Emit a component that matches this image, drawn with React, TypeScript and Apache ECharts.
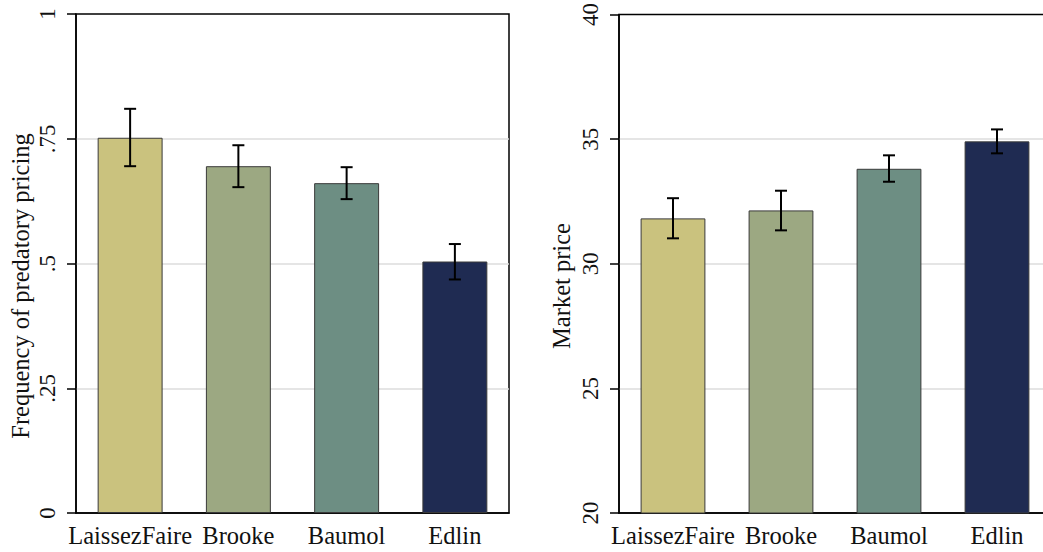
import React, { useEffect, useRef } from "react";
import * as echarts from "echarts";

const categories = ["LaissezFaire", "Brooke", "Baumol", "Edlin"];
const freqValues = [0.752, 0.695, 0.661, 0.504];
const freqLow = [0.695, 0.653, 0.629, 0.468];
const freqHigh = [0.81, 0.737, 0.693, 0.539];
const priceValues = [31.82, 32.14, 33.81, 34.91];
const priceLow = [31.02, 31.34, 33.29, 34.43];
const priceHigh = [32.63, 32.93, 34.35, 35.39];
const freqTicks = [0, 0.25, 0.5, 0.75, 1];
const priceTicks = [20, 25, 30, 35, 40];
const barColors = ["#CAC27E", "#9CA882", "#6D8E83", "#1F2B52"];

const FONT = "'Liberation Serif', 'Times New Roman', serif";
const TEXT = "#111111";

export default function App() {
  const ref = useRef<HTMLDivElement>(null);
  useEffect(() => {
    const chart = echarts.init(ref.current!, null, { renderer: "svg" });
    const fmtFreq = (v: number) => {
      if (v === 0) return "0";
      if (v === 1) return "1";
      return String(v).replace(/^0\./, ".");
    };
    const makeBars = (vals: number[], idx: number) => ({
      type: "bar",
      xAxisIndex: idx,
      yAxisIndex: idx,
      barWidth: "60%",
      z: 2,
      data: vals.map((v, i) => ({
        value: v,
        itemStyle: { color: barColors[i], borderColor: "#3a3a3a", borderWidth: 1 },
      })),
    });
    const makeErr = (lo: number[], hi: number[], idx: number) => ({
      type: "custom",
      xAxisIndex: idx,
      yAxisIndex: idx,
      z: 5,
      encode: { x: 0, y: [1, 2] },
      data: lo.map((l, i) => [i, l, hi[i]]),
      renderItem: (params: any, api: any) => {
        const x = api.value(0);
        const a = api.coord([x, api.value(1)]);
        const b = api.coord([x, api.value(2)]);
        const hw = 6;
        const st = { stroke: "#000", lineWidth: 2 };
        return {
          type: "group",
          children: [
            { type: "line", shape: { x1: a[0], y1: a[1], x2: b[0], y2: b[1] }, style: st },
            { type: "line", shape: { x1: a[0] - hw, y1: a[1], x2: a[0] + hw, y2: a[1] }, style: st },
            { type: "line", shape: { x1: b[0] - hw, y1: b[1], x2: b[0] + hw, y2: b[1] }, style: st },
          ],
        };
      },
    });
    const xAxisBase = (idx: number) => ({
      type: "category",
      gridIndex: idx,
      data: categories,
      axisLine: { lineStyle: { color: "#000", width: 1.5 } },
      axisTick: { alignWithLabel: true, length: 9, lineStyle: { color: "#000", width: 1.5 } },
      axisLabel: { interval: 0, margin: 10, fontFamily: FONT, fontSize: 24.5, color: TEXT },
      splitLine: { show: false },
    });
    const yAxisBase = (idx: number, ticks: number[], fmt: any) => ({
      type: "value",
      gridIndex: idx,
      min: ticks[0],
      max: ticks[ticks.length - 1],
      interval: ticks[1] - ticks[0],
      axisLine: { show: true, lineStyle: { color: "#000", width: 1.5 } },
      axisTick: { show: true, length: 9, lineStyle: { color: "#000", width: 1.5 } },
      axisLabel: {
        rotate: 90,
        margin: 17,
        fontFamily: FONT,
        fontSize: 23,
        color: TEXT,
        formatter: fmt,
      },
      splitLine: {
        show: true,
        lineStyle: {
          color: ticks.map((_, i) => (i === 0 || i === ticks.length - 1 ? "rgba(0,0,0,0)" : "#DCDCDC")),
          width: 1.5,
        },
      },
    });
    chart.setOption({
      animation: false,
      backgroundColor: "#ffffff",
      grid: [
        { left: 76, top: 14, width: 433, bottom: 39, show: true, borderColor: "#000", borderWidth: 1.5 },
        { left: 619, top: 14, width: 432, bottom: 39, show: true, borderColor: "#000", borderWidth: 1.5 },
      ],
      xAxis: [xAxisBase(0), xAxisBase(1)],
      yAxis: [
        yAxisBase(0, freqTicks, fmtFreq),
        yAxisBase(1, priceTicks, (v: number) => String(v)),
      ],
      graphic: [
        {
          type: "text",
          x: 20,
          y: 286,
          rotation: Math.PI / 2,
          style: {
            text: "Frequency of predatory pricing",
            fontFamily: FONT,
            fontSize: 24.5,
            fill: TEXT,
            align: "center",
            verticalAlign: "middle",
          },
        },
        {
          type: "text",
          x: 561,
          y: 286,
          rotation: Math.PI / 2,
          style: {
            text: "Market price",
            fontFamily: FONT,
            fontSize: 24.5,
            fill: TEXT,
            align: "center",
            verticalAlign: "middle",
          },
        },
      ],
      series: [
        makeBars(freqValues, 0),
        makeErr(freqLow, freqHigh, 0),
        makeBars(priceValues, 1),
        makeErr(priceLow, priceHigh, 1),
      ],
    });
    return () => chart.dispose();
  }, []);
  return (
    <div
      style={{
        position: "fixed",
        left: 0,
        top: 0,
        width: 1043,
        height: 552,
        overflow: "hidden",
        background: "#fff",
      }}
    >
      <div ref={ref} style={{ width: 1060, height: 552 }} />
    </div>
  );
}
